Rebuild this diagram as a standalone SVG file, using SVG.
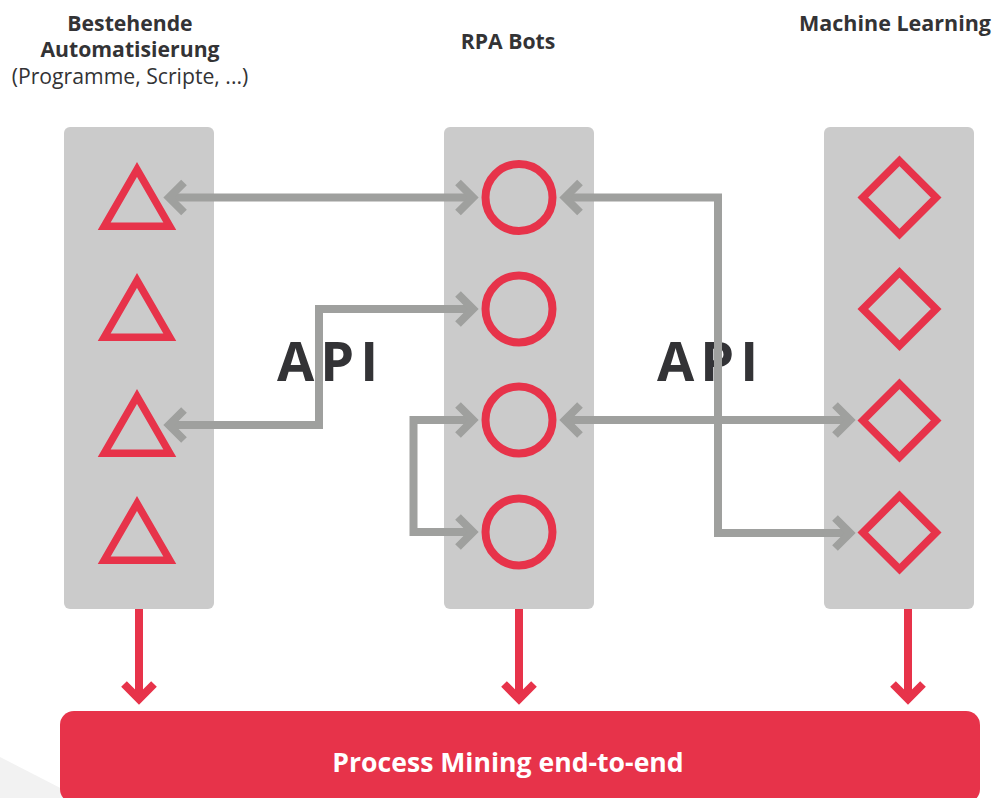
<svg xmlns="http://www.w3.org/2000/svg" width="994" height="798" viewBox="0 0 994 798">
<style>
.hdr{font-family:"Open Sans","Liberation Sans",sans-serif;font-size:21.2px;fill:#333335;text-anchor:middle}
.b{font-weight:700}
.api{font-family:"Open Sans","Liberation Sans",sans-serif;font-size:54px;font-weight:700;fill:#333336;letter-spacing:6px}
.panel{fill:#cbcbcb}
.tri,.dia,.cir{fill:none;stroke:#e7334a;stroke-width:7.5;stroke-linejoin:miter;stroke-miterlimit:10}
.cir{stroke-width:8}
.con{fill:none;stroke:#9fa09e;stroke-width:8;stroke-linejoin:miter;marker-start:url(#ag);marker-end:url(#ag)}
.out{fill:none;stroke:#e7334a;stroke-width:8;marker-end:url(#ar)}
.bartxt{font-family:"Open Sans","Liberation Sans",sans-serif;font-size:26.6px;font-weight:700;fill:#ffffff;text-anchor:middle}
</style>
<defs>
<marker id="ag" markerUnits="userSpaceOnUse" markerWidth="40" markerHeight="40" viewBox="-20 -20 40 40" refX="0" refY="0" orient="auto-start-reverse" overflow="visible">
<path d="M-15,-15 L0,0 L-15,15" fill="none" stroke="#9fa09e" stroke-width="8" stroke-linejoin="miter"/>
</marker>
<marker id="ar" markerUnits="userSpaceOnUse" markerWidth="40" markerHeight="40" viewBox="-20 -20 40 40" refX="0" refY="0" orient="auto" overflow="visible">
<path d="M-15,-15 L0,0 L-15,15" fill="none" stroke="#e7334a" stroke-width="8" stroke-linejoin="miter"/>
</marker>
</defs>
<rect width="994" height="798" fill="#ffffff"/>
<polygon points="0,757 220,870 0,870" fill="#f2f2f2"/>

<g id="col-automation">
<text class="hdr b" x="130" y="31">Bestehende</text>
<text class="hdr b" x="130" y="57">Automatisierung</text>
<text class="hdr" x="130" y="84">(Programme, Scripte, ...)</text>
<rect class="panel" x="64" y="127" width="150" height="482" rx="6"/>
</g>
<g id="tri1"><polygon class="tri" points="137,169.5 104.24,226.25 169.76,226.25"/></g>
<g id="tri2"><polygon class="tri" transform="translate(0,111)" points="137,169.5 104.24,226.25 169.76,226.25"/></g>
<g id="tri3"><polygon class="tri" transform="translate(0,227)" points="137,169.5 104.24,226.25 169.76,226.25"/></g>
<g id="tri4"><polygon class="tri" transform="translate(0,334)" points="137,169.5 104.24,226.25 169.76,226.25"/></g>

<g id="col-rpa">
<text class="hdr b" x="508" y="49">RPA Bots</text>
<rect class="panel" x="444" y="127" width="150" height="482" rx="6"/>
</g>
<g id="bot1"><circle class="cir" cx="519" cy="197.5" r="33.5"/></g>
<g id="bot2"><circle class="cir" cx="519" cy="309" r="33.5"/></g>
<g id="bot3"><circle class="cir" cx="519" cy="420" r="33.5"/></g>
<g id="bot4"><circle class="cir" cx="519" cy="532" r="33.5"/></g>

<g id="col-ml">
<text class="hdr b" x="895" y="31" style="font-size:21.5px">Machine Learning</text>
<rect class="panel" x="824" y="127" width="150" height="482" rx="6"/>
</g>
<g id="ml1"><polygon class="dia" points="899.5,160.8 936.2,197.5 899.5,234.2 862.8,197.5"/></g>
<g id="ml2"><polygon class="dia" transform="translate(0,111.5)" points="899.5,160.8 936.2,197.5 899.5,234.2 862.8,197.5"/></g>
<g id="ml3"><polygon class="dia" transform="translate(0,223)" points="899.5,160.8 936.2,197.5 899.5,234.2 862.8,197.5"/></g>
<g id="ml4"><polygon class="dia" transform="translate(0,335)" points="899.5,160.8 936.2,197.5 899.5,234.2 862.8,197.5"/></g>

<g id="api-labels">
<text class="api" x="277" y="381">API</text>
<text class="api" x="657" y="381">API</text>
</g>

<g id="connectors">
<path class="con" d="M169,197.5 H473"/>
<path class="con" d="M169,425 H319 V309 H473"/>
<path class="con" d="M473,420 H413.5 V532 H473"/>
<path class="con" d="M565,197.5 H718 V533 H850"/>
<path class="con" d="M565,420 H850"/>
<path class="out" d="M139,609 V699"/>
<path class="out" d="M519,609 V699"/>
<path class="out" d="M908,609 V699"/>
</g>

<g id="process-mining">
<rect x="60" y="711" width="920" height="92" rx="14" fill="#e7334a"/>
<text class="bartxt" x="508" y="772">Process Mining end-to-end</text>
</g>
</svg>
